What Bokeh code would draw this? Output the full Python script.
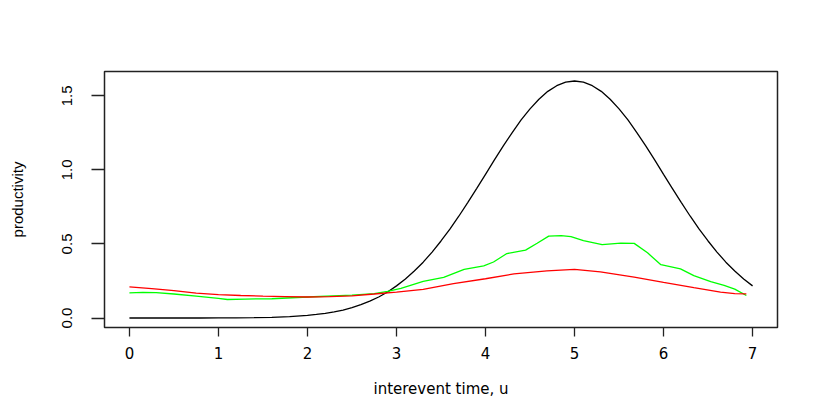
from bokeh.plotting import figure
from bokeh.models import Range1d, FixedTicker
from bokeh.embed import file_html
from bokeh.resources import INLINE

# --- data ---
u_black = [0.0, 0.2, 0.4, 0.6, 0.8, 1.0, 1.2, 1.4, 1.6, 1.8, 2.0,
           2.1, 2.2, 2.3, 2.4, 2.5, 2.6, 2.7, 2.8, 2.9, 3.0,
           3.1, 3.2, 3.3, 3.4, 3.5, 3.6, 3.7, 3.8, 3.9, 4.0,
           4.1, 4.2, 4.3, 4.4, 4.5, 4.6, 4.7, 4.8, 4.9, 5.0,
           5.1, 5.2, 5.3, 5.4, 5.5, 5.6, 5.7, 5.8, 5.9, 6.0,
           6.1, 6.2, 6.3, 6.4, 6.5, 6.6, 6.7, 6.8, 6.9, 7.0]
prod_black = [0.0, 0.0, 0.0, 0.0001, 0.0002, 0.0005, 0.0012, 0.0025, 0.0049, 0.0096, 0.018,
              0.024, 0.032, 0.042, 0.054, 0.070, 0.090, 0.114, 0.142, 0.176, 0.217,
              0.263, 0.317, 0.377, 0.445, 0.520, 0.600, 0.687, 0.779, 0.874, 0.970,
              1.067, 1.162, 1.252, 1.337, 1.412, 1.477, 1.530, 1.568, 1.592, 1.600,
              1.592, 1.568, 1.530, 1.477, 1.412, 1.337, 1.252, 1.162, 1.067, 0.970,
              0.874, 0.779, 0.687, 0.600, 0.520, 0.445, 0.377, 0.317, 0.263, 0.217]

u_red = [0.0, 0.25, 0.5, 0.75, 1.0, 1.25, 1.5, 1.75, 2.0, 2.25, 2.5, 2.75, 3.0, 3.3,
         3.64, 4.0, 4.32, 4.69, 5.0, 5.29, 5.67, 6.0, 6.34, 6.64, 6.8, 6.93]
prod_red = [0.210, 0.198, 0.185, 0.168, 0.158, 0.152, 0.148, 0.145, 0.142, 0.144,
            0.150, 0.162, 0.175, 0.194, 0.232, 0.265, 0.298, 0.318, 0.328, 0.312,
            0.276, 0.240, 0.205, 0.175, 0.165, 0.163]

u_green = [0.0, 0.15, 0.3, 0.5, 0.75, 1.0, 1.1, 1.3, 1.6, 2.0, 2.5, 2.75, 2.9, 3.05,
           3.3, 3.53, 3.76, 3.98, 4.09, 4.24, 4.45, 4.58, 4.71, 4.85, 4.96, 5.10,
           5.31, 5.52, 5.67, 5.82, 5.97, 6.19, 6.34, 6.53, 6.68, 6.8, 6.93]
prod_green = [0.170, 0.173, 0.172, 0.162, 0.148, 0.132, 0.125, 0.128, 0.130, 0.142,
              0.155, 0.165, 0.180, 0.200, 0.248, 0.275, 0.328, 0.352, 0.378, 0.435,
              0.458, 0.505, 0.553, 0.556, 0.550, 0.522, 0.495, 0.506, 0.504, 0.440,
              0.360, 0.332, 0.286, 0.245, 0.220, 0.195, 0.152]

x_ticks = [0, 1, 2, 3, 4, 5, 6, 7]
y_ticks = [0.0, 0.5, 1.0, 1.5]
y_tick_labels = {0.0: "0.0", 0.5: "0.5", 1.0: "1.0", 1.5: "1.5"}

FONT_X = "DejaVu Sans"
FONT_Y = "Liberation Sans"

p = figure(width=814, height=400, output_backend="svg", toolbar_location=None,
           x_range=Range1d(-0.28, 7.28), y_range=Range1d(-0.064, 1.664),
           min_border_left=104, min_border_top=71, min_border_right=37,
           min_border_bottom=73)

p.xgrid.visible = False
p.ygrid.visible = False
p.background_fill_color = "white"
p.border_fill_color = "white"
p.outline_line_color = "#222222"
p.outline_line_width = 1.5

p.line(u_black, prod_black, line_color="black", line_width=1.3)
p.line(u_green, prod_green, line_color="#00FF00", line_width=1.3)
p.line(u_red, prod_red, line_color="#FF0000", line_width=1.3)

xa = p.xaxis[0]
xa.ticker = FixedTicker(ticks=x_ticks)
xa.axis_label = "interevent time, u"
xa.axis_line_color = None
xa.major_tick_out = 9
xa.major_tick_in = 0
xa.minor_tick_line_color = None
xa.major_tick_line_color = "#222222"
xa.major_tick_line_width = 1.3
xa.major_label_text_font = FONT_X
xa.major_label_text_font_size = "15px"
xa.major_label_text_color = "black"
xa.major_label_standoff = 10
xa.axis_label_text_font = FONT_X
xa.axis_label_text_font_size = "15px"
xa.axis_label_text_font_style = "normal"
xa.axis_label_text_color = "black"
xa.axis_label_standoff = 18

ya = p.yaxis[0]
ya.ticker = FixedTicker(ticks=y_ticks)
ya.major_label_overrides = y_tick_labels
ya.major_label_orientation = "vertical"
ya.axis_label = "productivity"
ya.axis_line_color = None
ya.major_tick_out = 13
ya.major_tick_in = 0
ya.minor_tick_line_color = None
ya.major_tick_line_color = "#222222"
ya.major_tick_line_width = 1.3
ya.major_label_text_font = FONT_Y
ya.major_label_text_font_size = "15px"
ya.major_label_text_color = "black"
ya.major_label_standoff = 19
ya.axis_label_text_font = FONT_Y
ya.axis_label_text_font_size = "15px"
ya.axis_label_text_font_style = "normal"
ya.axis_label_text_color = "black"
ya.axis_label_standoff = 34

open("out.html", "w").write(file_html(p, INLINE))
